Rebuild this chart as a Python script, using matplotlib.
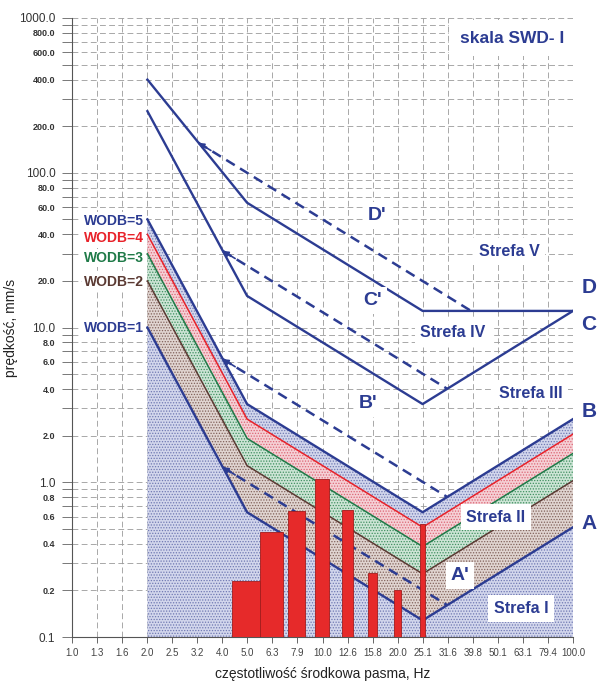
import numpy as np
import matplotlib.pyplot as plt
from matplotlib.ticker import FixedLocator, NullLocator, NullFormatter

plt.rcParams['font.family'] = ['Liberation Sans', 'DejaVu Sans']
plt.rcParams['hatch.linewidth'] = 0.6

# third-octave band labels on the x axis
freq_labels = ['1.0', '1.3', '1.6', '2.0', '2.5', '3.2', '4.0', '5.0', '6.3', '7.9', '10.0',
               '12.6', '15.8', '20.0', '25.1', '31.6', '39.8', '50.1', '63.1', '79.4', '100.0']
freq_pos = 10 ** (np.arange(len(freq_labels)) / 10)

y_major = [0.1, 0.2, 0.4, 0.6, 0.8, 1.0, 2.0, 4.0, 6.0, 8.0, 10.0, 20.0, 40.0, 60.0, 80.0,
           100.0, 200.0, 400.0, 600.0, 800.0, 1000.0]
y_decades = [0.1, 1.0, 10.0, 100.0, 1000.0]

# zone boundary lines (corner frequencies and values, mm/s)
knee_f = [2.0, 5.0, 25.1, 100.0]
line_a = [10.0, 0.64, 0.128, 0.512]        # WODB=1
wodb = [1, 2, 3, 4, 5]                      # WODB=k -> k * line A, WODB=5 is line B
line_c = [250.0, 16.0, 3.2, 12.8]
line_d = [400.0, 64.0, 12.8, 12.8]

# dashed lines A', B', C', D'
prime_f = [4.0, 31.6]
a_prime = [1.25, 0.16]
b_prime = [6.25, 0.8]
c_prime = [31.25, 4.0]
d_prime_f = [3.2, 39.8]
d_prime = [156.0, 12.6]

# measured spectrum
bar_f = [5.0, 6.3, 7.9, 10.0, 12.6, 15.8, 20.0, 25.1]
bar_v = [0.23, 0.48, 0.65, 1.05, 0.66, 0.26, 0.20, 0.54]
bar_w = 1.3

blue = '#2c3c92'
red = '#e8222a'
green = '#1f7a48'
brown = '#5b3a33'
line_cols = [blue, brown, green, red, blue]
band_face = ['#d2d6ec', '#e0d4d0', '#cce4d5', '#f5d0d5', '#d2d6ec']
band_dots = ['#6f78b2', '#80615a', '#3f8f5f', '#dc6676', '#6f78b2']

fig = plt.figure(figsize=(5.98, 6.84), dpi=100)
ax = fig.add_axes([72 / 598, 1 - 637 / 684, 501 / 598, 619 / 684])
ax.set_xscale('log')
ax.set_yscale('log')
ax.set_xlim(1.0, 100.0)
ax.set_ylim(0.1, 1000.0)

a = np.array(line_a)
kf = np.array(knee_f)
for i, k in enumerate(wodb):
    lower = a * (k - 1) if k > 1 else np.full(len(kf), 0.1)
    ax.fill_between(kf, lower, a * k, facecolor=band_face[i], edgecolor=band_dots[i],
                    hatch='......', linewidth=0, zorder=1)
for i, k in enumerate(wodb):
    lw = 1.7 if k in (1, 5) else 1.1
    ax.plot(kf, a * k, color=line_cols[i], lw=lw, zorder=3)

ax.plot(knee_f, line_c, color=blue, lw=1.7, zorder=3)
ax.plot(knee_f, line_d, color=blue, lw=1.7, zorder=3)

for xs, ys in [(prime_f, a_prime), (prime_f, b_prime), (prime_f, c_prime), (d_prime_f, d_prime)]:
    ax.plot(xs, ys, color=blue, lw=1.8, linestyle=(0, (4, 2.5)), zorder=3)
    ax.annotate('', xy=(xs[0], ys[0]), xytext=(xs[0] * 1.12, ys[0] / 1.12),
                arrowprops=dict(arrowstyle='-|>', color=blue, lw=1.2, mutation_scale=8,
                                shrinkA=0, shrinkB=0), zorder=3)

ax.bar(bar_f, np.array(bar_v) - 0.1, bottom=0.1, width=bar_w, color='#e62a2a',
       edgecolor='#a31c1c', linewidth=0.6, zorder=4)

# grid and ticks
ax.xaxis.set_major_locator(FixedLocator(freq_pos))
ax.xaxis.set_minor_locator(NullLocator())
ax.set_xticklabels(freq_labels)
ax.yaxis.set_major_locator(FixedLocator(y_major))
ax.yaxis.set_minor_locator(FixedLocator([m * 10.0 ** e for e in range(-1, 3) for m in (3, 5, 7, 9)]))
ax.yaxis.set_minor_formatter(NullFormatter())
ax.set_yticklabels(['%.1f' % v for v in y_major])
for lab, v in zip(ax.get_yticklabels(), y_major):
    lab.set_color('#333333')
    if v in y_decades:
        lab.set_fontsize(8.5)
    else:
        lab.set_fontsize(6.5)
        lab.set_fontweight('bold')
ax.tick_params(axis='x', which='major', length=4, width=0.7, color='#666666',
               labelsize=7, labelcolor='#444444', pad=4)
ax.tick_params(axis='y', which='both', length=7, width=0.7, color='#777777', pad=5)
ax.grid(True, axis='x', which='major', color='#9a9a9a', lw=0.6, linestyle=(0, (7, 4)), zorder=0)
ax.grid(True, axis='y', which='both', color='#9a9a9a', lw=0.6, linestyle=(0, (7, 4)), zorder=0)
ax.set_axisbelow(True)
for s in ['top', 'right']:
    ax.spines[s].set_visible(False)
for s in ['left', 'bottom']:
    ax.spines[s].set_color('#555555')
    ax.spines[s].set_linewidth(0.8)

ax.set_xlabel('częstotliwość środkowa pasma, Hz', fontsize=10, color='#222222')
ax.xaxis.set_label_coords(0.5, -0.048)
ax.set_ylabel('prędkość, mm/s', fontsize=10, color='#222222')
ax.yaxis.set_label_coords(-0.108, 0.5)

ax.text(57, 740, 'skala SWD- I', fontsize=12.5, fontweight='bold', color=blue,
        ha='center', va='center', zorder=6,
        bbox=dict(facecolor='white', edgecolor='none', boxstyle='square,pad=0.6'))

zone_text = [('Strefa V', 55.6, 31.0), ('Strefa IV', 33.2, 9.3), ('Strefa III', 67.8, 3.76),
             ('Strefa II', 49.3, 0.594), ('Strefa I', 62.0, 0.153)]
for t, x, y in zone_text:
    ax.text(x, y, t, fontsize=11.5, fontweight='bold', color=blue, ha='center', va='center',
            zorder=6, bbox=dict(facecolor='white', edgecolor='none', boxstyle='square,pad=0.35'))

prime_text = [("D'", 16.5, 53.0), ("C'", 15.9, 15.0), ("B'", 15.2, 3.24), ("A'", 35.4, 0.25)]
for t, x, y in prime_text:
    ax.text(x, y, t, fontsize=14, fontweight='bold', color=blue, ha='center', va='center',
            zorder=6, bbox=dict(facecolor='white', edgecolor='none', boxstyle='square,pad=0.25'))

edge_text = [('D', 18.2), ('C', 10.5), ('B', 2.88), ('A', 0.54)]
for t, y in edge_text:
    ax.text(116, y, t, fontsize=15, fontweight='bold', color=blue, ha='center', va='center',
            clip_on=False, zorder=6)

wodb_y = [10.0, 19.6, 28.0, 37.6, 49.0]
for i, k in enumerate(wodb):
    ax.text(1.93, wodb_y[i], 'WODB=%d' % k, fontsize=10, fontweight='bold', color=line_cols[i],
            ha='right', va='center', zorder=6,
            bbox=dict(facecolor='white', edgecolor='none', pad=1.5))

fig.savefig('out.png', dpi=100)
